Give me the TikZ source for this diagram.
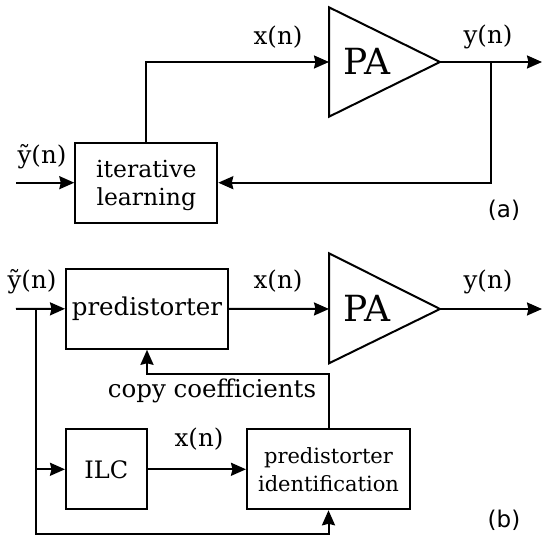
\documentclass[tikz,border=0pt]{standalone}
\usepackage{fontspec}
\setmainfont{DejaVu Serif}
\newfontfamily\labsans{DejaVu Sans}
\usetikzlibrary{arrows.meta}
\begin{document}
\begin{tikzpicture}[x=1pt,y=-1pt,
  line width=2pt,
  conn/.style={-{Stealth[length=15pt,width=13pt,inset=1.5pt]}},
  blk/.style={draw,inner sep=0pt,align=center},
  lab/.style={inner sep=0pt,font=\fontsize{24.5}{28}\selectfont},
  amp/.style={draw,line join=miter},
  patext/.style={inner sep=0pt,font=\fontsize{36}{40}\selectfont},
  panel/.style={inner sep=0pt,font=\labsans\fontsize{23}{26}\selectfont}]
\useasboundingbox (0,0) rectangle (550,540);
% ---------- (a) ----------
\draw[amp] (329,7.3) -- (329,116.7) -- (440,62) -- cycle;
\node[patext] (paA) at (367,61) {PA};
\coordinate (paAin) at (329,62);
\coordinate (paAout) at (440,62);
\node[blk,minimum width=142pt,minimum height=80pt,text depth=0pt,font=\fontsize{23.5}{28}\selectfont] (il) at (146.3,182.7) {iterative\\learning};
\coordinate (inA) at (16,182.7);
\coordinate (outA) at (542,62);
\coordinate (tapA) at (491,62);
\draw[conn] (il.north) |- (paAin);
\draw[conn] (paAout) -- (outA);
\draw[conn] (tapA) |- (il.east);
\draw[conn] (inA) -- (il.west);
\node[lab] (xa) at (278,37) {x(n)};
\node[lab] (ya) at (488,37) {y(n)};
\node[lab] (yta) at (42,157) {ỹ(n)};
\node[panel] (pa) at (504,210) {(a)};
% ---------- (b) ----------
\draw[amp] (329,253.3) -- (329,363.3) -- (440,309) -- cycle;
\node[patext] (paB) at (367,308) {PA};
\coordinate (paBin) at (329,309);
\coordinate (paBout) at (440,309);
\node[blk,minimum width=162pt,minimum height=80pt,font=\fontsize{24.5}{28}\selectfont] (pd) at (147,308.8) {predistorter};
\node[blk,minimum width=80.6pt,minimum height=80pt,font=\fontsize{24}{28}\selectfont] (ilc) at (106.3,469.3) {ILC};
\node[blk,minimum width=163pt,minimum height=80pt,font=\fontsize{21}{28}\selectfont] (pid) at (328.5,469.3) {predistorter\\identification};
\coordinate (inB) at (16,309);
\coordinate (outB) at (542,309);
\coordinate (br) at (36.4,309);
\coordinate (brb) at (36.4,534);
\coordinate (cc) at (328.5,374);
\draw[conn] (inB) -- (pd.west);
\draw[conn] (pd.east) -- (paBin);
\draw[conn] (paBout) -- (outB);
\draw[conn] (br) -- (brb) -| (pid.south);
\draw[conn] (br |- ilc.west) -- (ilc.west);
\draw[conn] (ilc.east) -- (pid.west);
\draw[conn] (pid.north) -- (cc) -| (pd.south);
\node[lab] (xb) at (278,281) {x(n)};
\node[lab] (yb) at (488,282) {y(n)};
\node[lab] (ytb) at (32,281.5) {ỹ(n)};
\node[lab] (xc) at (199,439) {x(n)};
\node[lab] (copy) at (212,391) {copy coefficients};
\node[panel] (pb) at (504,520) {(b)};
\end{tikzpicture}
\end{document}
